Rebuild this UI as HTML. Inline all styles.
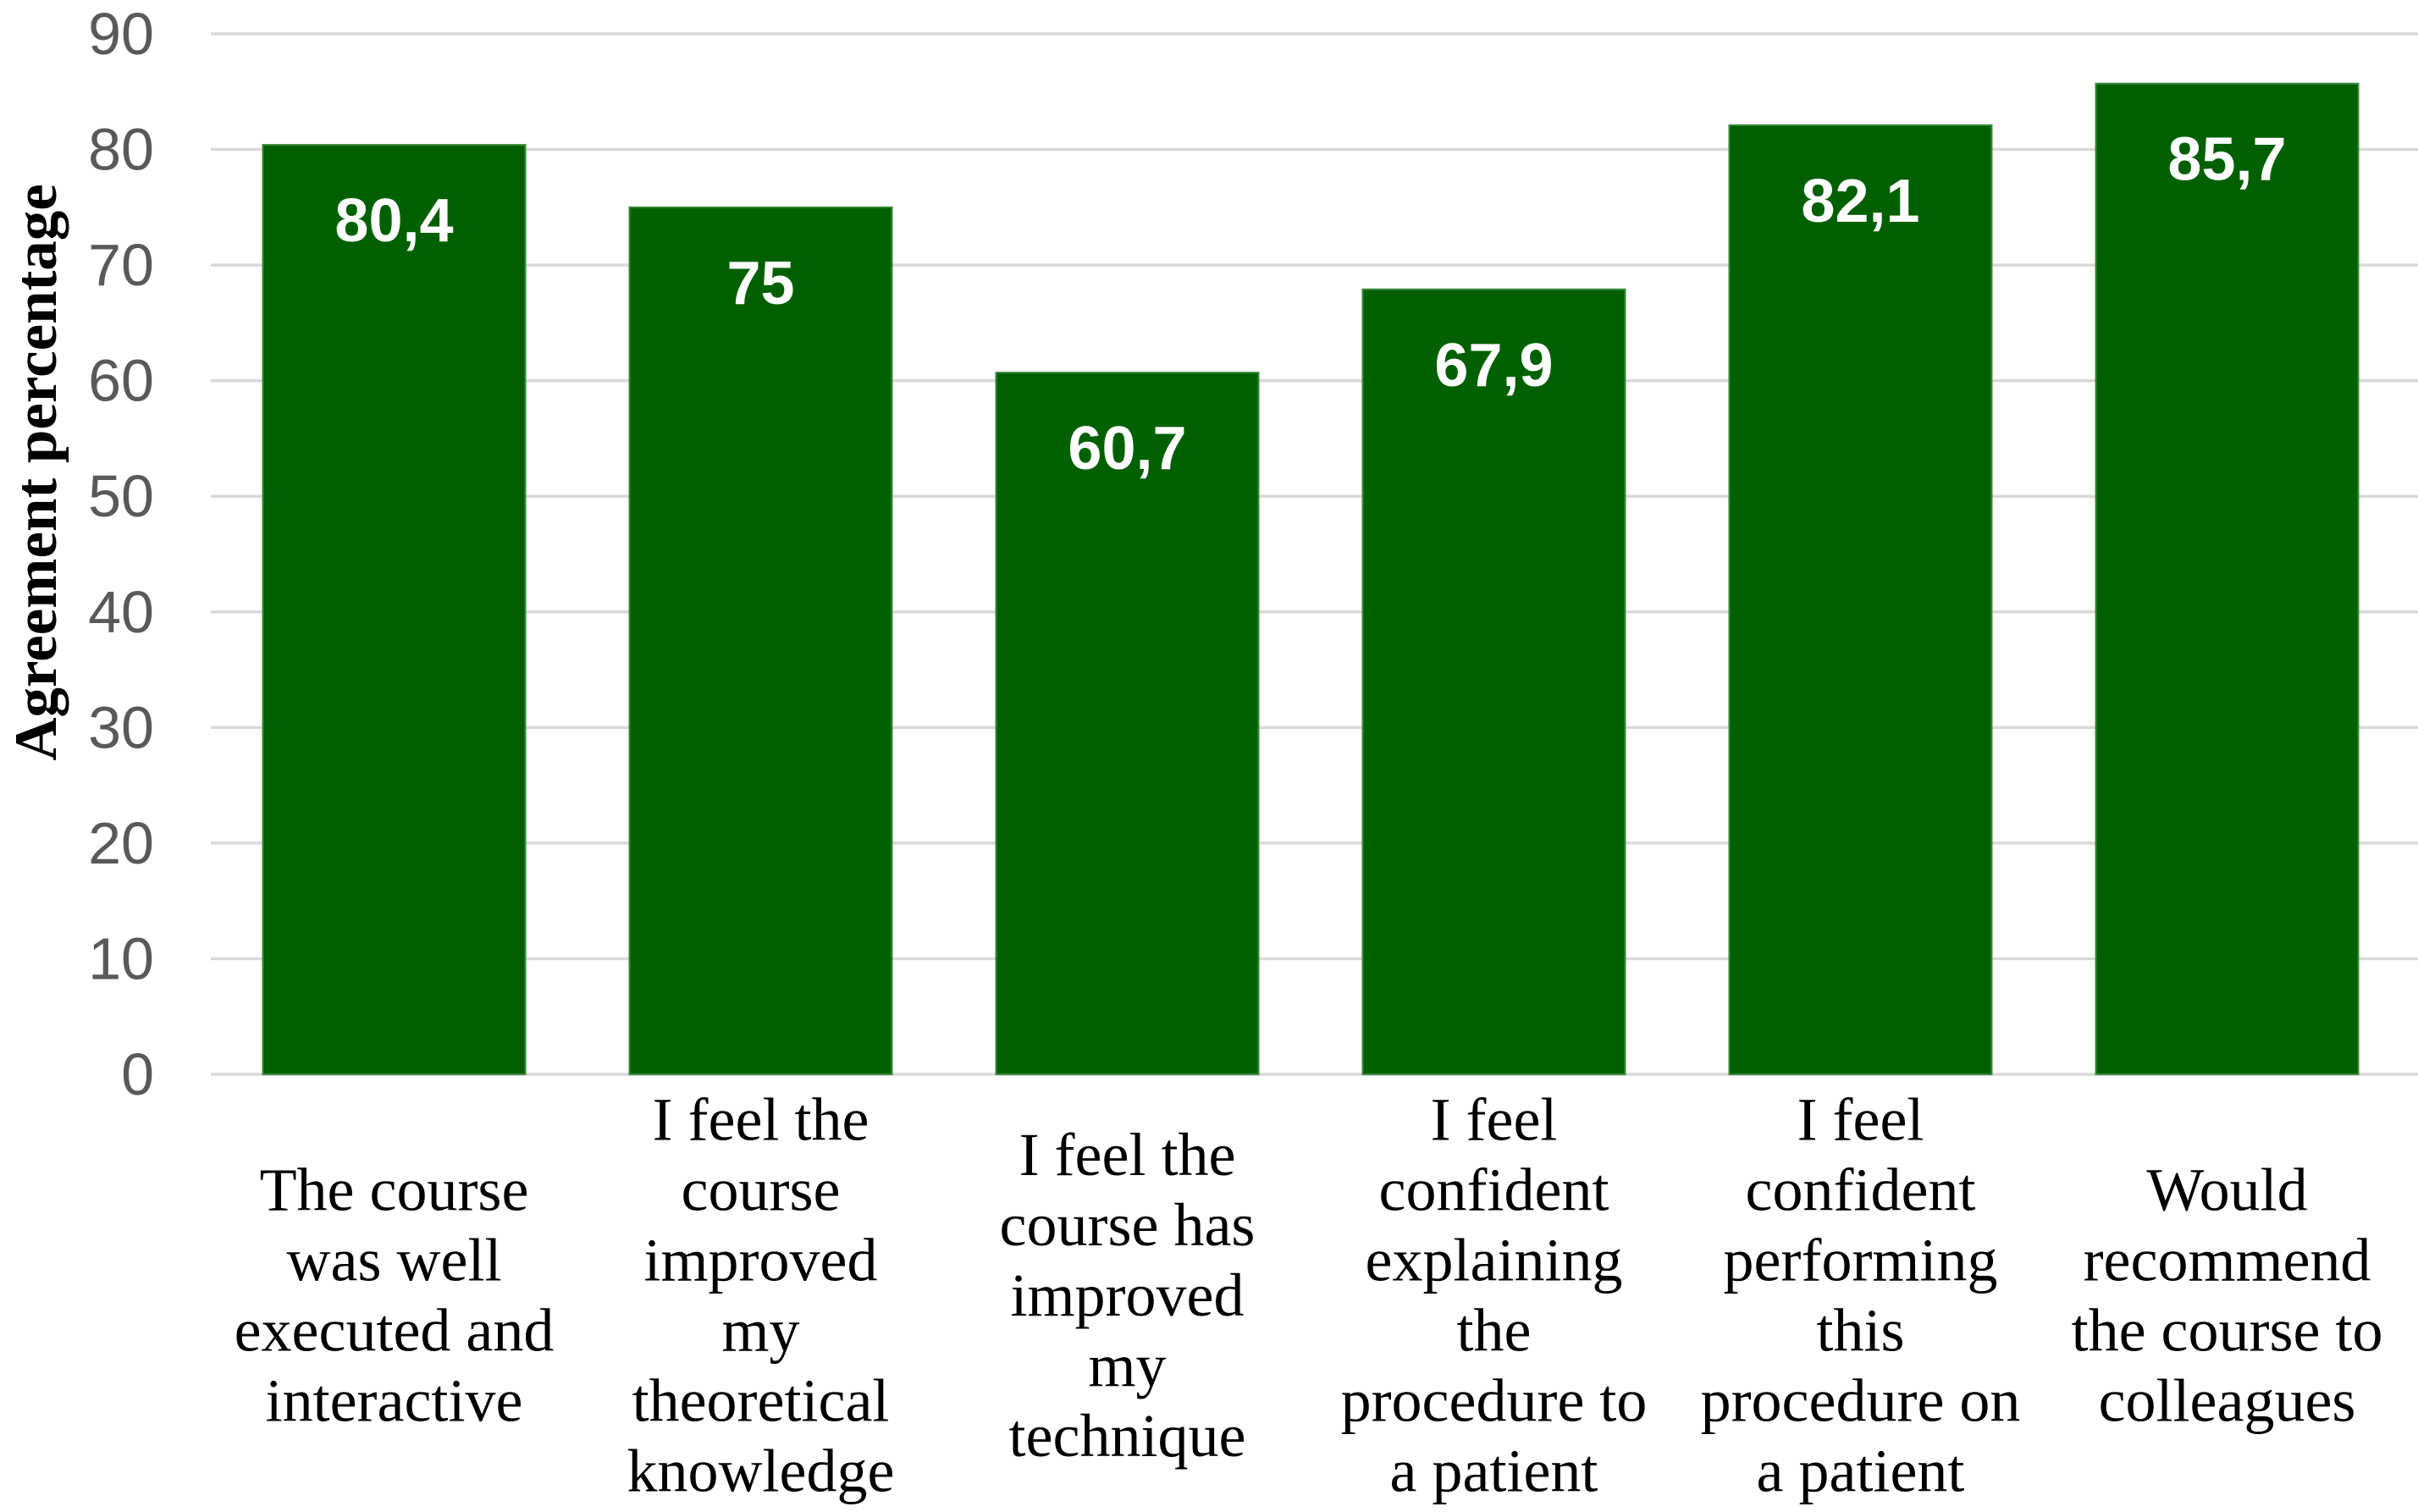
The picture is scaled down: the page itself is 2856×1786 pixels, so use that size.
<!DOCTYPE html>
<html><head><meta charset="utf-8">
<style>
html,body{margin:0;padding:0;background:#fff;}
svg{display:block;}
</style></head>
<body>
<svg id="chart" width="2856" height="1786" viewBox="0 0 2856 1786" xmlns="http://www.w3.org/2000/svg">
<g id="grid"></g>
<g id="yticks"></g>
<g id="bars"></g>
<g id="xlabels"></g>
<text transform="translate(66,558) rotate(-90)" text-anchor="middle" font-family="Liberation Serif, serif" font-weight="bold" font-size="71" fill="#000">Agreement percentage</text>
</svg>
<script>
const categories = [
  ["The course","was well","executed and","interactive"],
  ["I feel the","course","improved","my","theoretical","knowledge"],
  ["I feel the","course has","improved","my","technique"],
  ["I feel","confident","explaining","the","procedure to","a patient"],
  ["I feel","confident","performing","this","procedure on","a patient"],
  ["Would","recommend","the course to","colleagues"]
];
const values = [80.4, 75, 60.7, 67.9, 82.1, 85.7];
const valueLabels = ["80,4","75","60,7","67,9","82,1","85,7"];
const yTicks = [0,10,20,30,40,50,60,70,80,90];

const NS = "http://www.w3.org/2000/svg";
const x0 = 249, catW = 433, barW = 310;
const yTop = 40, yBot = 1269, yMax = 90;
function yScale(v){ return yBot - (v / yMax) * (yBot - yTop); }
function xCenter(i){ return x0 + catW * (i + 0.5); }
function mk(tag, attrs, parent){
  const e = document.createElementNS(NS, tag);
  for (const k in attrs) e.setAttribute(k, attrs[k]);
  parent.appendChild(e);
  return e;
}
const grid = document.getElementById('grid');
const yt = document.getElementById('yticks');
yTicks.forEach(t => {
  const y = yScale(t);
  const l = mk('line', {x1: x0, x2: 2856, y1: y, y2: y, stroke: '#d9d9d9', 'stroke-width': 3.5}, grid);
  
  
  const tx = mk('text', {x: 182, y: y + 24, 'text-anchor': 'end', 'font-family': 'Liberation Sans, sans-serif', 'font-size': 70, fill: '#595959'}, yt);
  tx.textContent = t;
  
  
});
const bars = document.getElementById('bars');
const xl = document.getElementById('xlabels');
values.forEach((v, i) => {
  const cx = xCenter(i);
  const y = yScale(v);
  const r = mk('rect', {x: cx - barW/2, y: y, width: barW, height: yBot - y, fill: '#006000', stroke: '#3a8a3a', 'stroke-width': 2}, bars);
  
  
  const vl = mk('text', {x: cx, y: y + 114, 'text-anchor': 'middle', 'font-family': 'Liberation Sans, sans-serif', 'font-weight': 'bold', 'font-size': 72, fill: '#fff'}, bars);
  vl.textContent = valueLabels[i];
  
  
  const lines = categories[i];
  const lh = 83, centerY = 1530;
  const startY = centerY - (lines.length - 1) * lh / 2;
  const t = mk('text', {'text-anchor': 'middle', 'font-family': 'Liberation Serif, serif', 'font-size': 72, fill: '#000'}, xl);
  
  
  lines.forEach((ln, j) => {
    const s = mk('tspan', {x: cx, y: startY + j * lh + 24}, t);
    s.textContent = ln;
  });
});
</script>
</body></html>
